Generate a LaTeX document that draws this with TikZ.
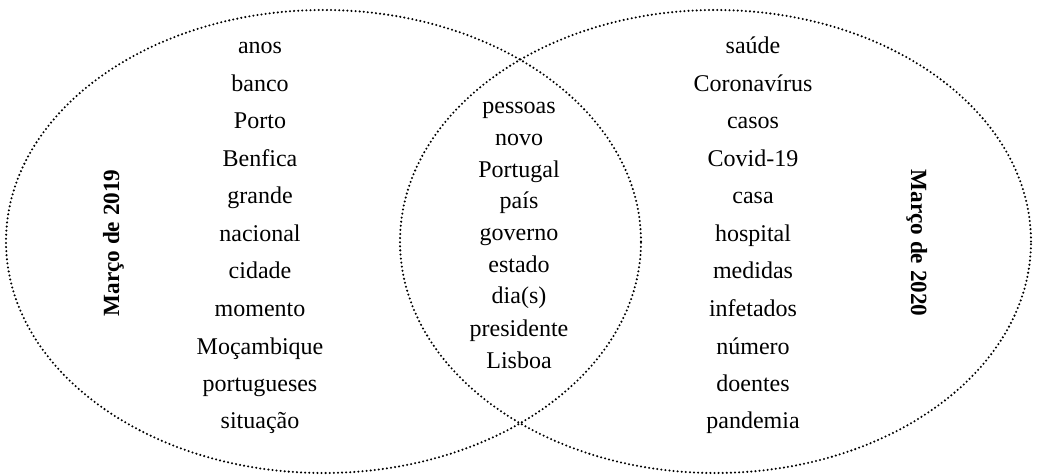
\documentclass[tikz,border=0pt]{standalone}
\usepackage{fontspec}
\setmainfont{Liberation Serif}
\usepackage{tikz}

\tikzset{
  venn/.style={line width=1.15pt, dash pattern=on 0pt off 2.05pt, line cap=round},
  word/.style={font=\fontsize{12}{14}\selectfont, inner sep=0pt, text height=8.5pt, text depth=2.5pt},
  year/.style={font=\fontsize{11.6}{14}\selectfont\bfseries, inner sep=0pt, text height=8.5pt, text depth=2.5pt}
}

\begin{document}
\begin{tikzpicture}[x=0.5pt,y=-0.5pt]
\useasboundingbox (0,0) rectangle (1037,475);
\draw[venn] (323.5,241.5) ellipse [x radius=158.75pt, y radius=115.75pt];
\draw[venn] (715.5,241.5) ellipse [x radius=157.75pt, y radius=115.75pt];
\node[year, rotate=90]  (m2019) at (113,243) {Março de 2019};
\node[year, rotate=-90] (m2020) at (917,243) {Março de 2020};
\node[word] (anos)        at (260,48)  {anos};
\node[word] (banco)       at (260,86)  {banco};
\node[word] (porto)       at (260,123) {Porto};
\node[word] (benfica)     at (260,161) {Benfica};
\node[word] (grande)      at (260,198) {grande};
\node[word] (nacional)    at (260,236) {nacional};
\node[word] (cidade)      at (260,273) {cidade};
\node[word] (momento)     at (260,310) {momento};
\node[word] (mocambique)  at (260,348) {Moçambique};
\node[word] (portugueses) at (260,385) {portugueses};
\node[word] (situacao)    at (260,422) {situação};
\node[word] (pessoas)     at (519,108) {pessoas};
\node[word] (novo)        at (519,140) {novo};
\node[word] (portugal)    at (519,172) {Portugal};
\node[word] (pais)        at (519,203) {país};
\node[word] (governo)     at (519,235) {governo};
\node[word] (estado)      at (519,267) {estado};
\node[word] (dias)        at (519,298) {dia(s)};
\node[word] (presidente)  at (519,330) {presidente};
\node[word] (lisboa)      at (519,362) {Lisboa};
\node[word] (saude)       at (753,48)  {saúde};
\node[word] (corona)      at (753,86)  {Coronavírus};
\node[word] (casos)       at (753,123) {casos};
\node[word] (covid)       at (753,161) {Covid-19};
\node[word] (casa)        at (753,198) {casa};
\node[word] (hospital)    at (753,236) {hospital};
\node[word] (medidas)     at (753,273) {medidas};
\node[word] (infetados)   at (753,310) {infetados};
\node[word] (numero)      at (753,348) {número};
\node[word] (doentes)     at (753,385) {doentes};
\node[word] (pandemia)    at (753,422) {pandemia};
\end{tikzpicture}
\end{document}
